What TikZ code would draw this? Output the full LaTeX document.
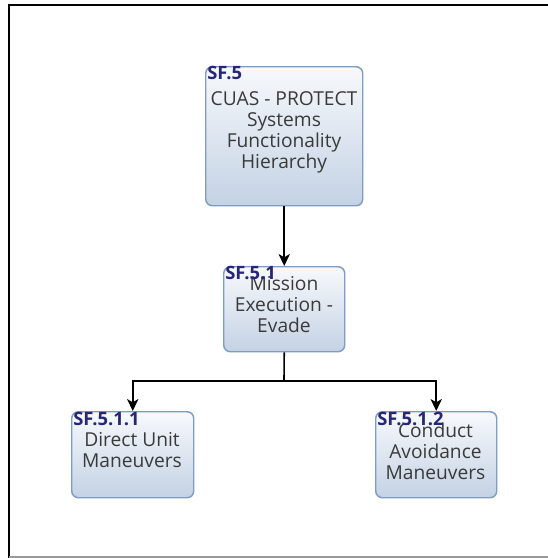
\documentclass[tikz,border=0pt]{standalone}
\usepackage{fontspec}
\setmainfont{Open Sans}
\usetikzlibrary{arrows.meta}
\definecolor{boxline}{HTML}{7E9CC4}
\definecolor{boxtop}{HTML}{F7F9FC}
\definecolor{boxbottom}{HTML}{C4D2E4}
\definecolor{idblue}{HTML}{26267A}
\definecolor{bodytext}{HTML}{3A3A3A}
\begin{document}
\begin{tikzpicture}[x=0.75pt,y=-0.75pt,
  fnbox/.style={draw=boxline,line width=1.1pt,rounded corners=5pt,
    top color=boxtop,bottom color=boxbottom,inner sep=0pt,anchor=north west},
  fntext/.style={text=bodytext,font=\fontsize{14.4pt}{15.75pt}\selectfont,align=center,inner sep=0pt},
  fnid/.style={text=idblue,font=\bfseries\fontsize{13.8pt}{15pt}\selectfont,anchor=west,inner sep=0pt},
  link/.style={line width=1.2pt,-{Stealth[length=9pt,width=8.5pt,inset=2.5pt]}},
  plain/.style={line width=1.2pt}]
\useasboundingbox (0,0) rectangle (548,558);
% page frame
\draw[line width=1.8pt] (9,558) -- (9,5) -- (548,5);
\draw[line width=1.1pt,gray!80] (9,557) -- (548,557);

% boxes
\node[fnbox,minimum width=157*0.75pt,minimum height=139*0.75pt] (sf5) at (205,66) {};
\node[fnbox,minimum width=121*0.75pt,minimum height=85*0.75pt] (sf51) at (223,266) {};
\node[fnbox,minimum width=122*0.75pt,minimum height=86*0.75pt] (sf511) at (71,411) {};
\node[fnbox,minimum width=121*0.75pt,minimum height=86*0.75pt] (sf512) at (375,411) {};

% body texts
\node[fntext] (sf5t) at (284,132) {CUAS - PROTECT\\Systems\\Functionality\\Hierarchy};
\node[fntext] (sf51t) at (284,305) {Mission\\Execution -\\Evade};
\node[fntext] (sf511t) at (132,450.5) {Direct Unit\\Maneuvers};
\node[fntext] (sf512t) at (435.5,451) {Conduct\\Avoidance\\Maneuvers};

% identifiers
\node[fnid] (sf5id) at (207,73) {SF.5};
\node[fnid] (sf51id) at (225,273) {SF.5.1};
\node[fnid] (sf511id) at (73,419) {SF.5.1.1};
\node[fnid] (sf512id) at (377,419) {SF.5.1.2};

% connectors
\coordinate (split) at (284,381);
\draw[link] (sf5.south) -- (sf51.north);
\draw[plain] (sf51.south) -- (split);
\draw[link] (split) -| (sf511.north);
\draw[link] (split) -| (sf512.north);
\end{tikzpicture}
\end{document}
